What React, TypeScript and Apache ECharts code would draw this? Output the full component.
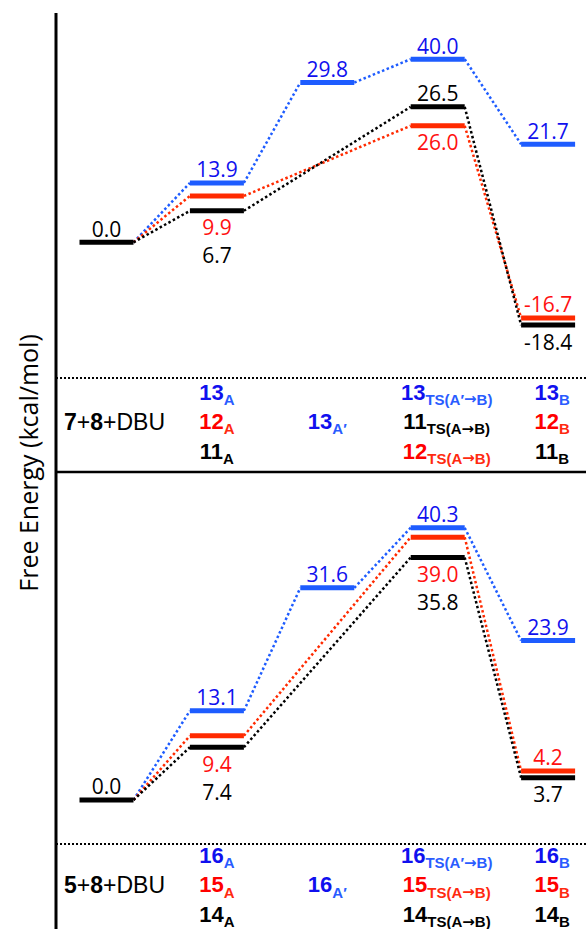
import React, { useEffect, useRef } from 'react';
import * as echarts from 'echarts';

// ---------- data ----------
const columns = ['R', 'A', "A'", 'TS', 'B'];

// Top panel (7+8+DBU): printed free energies, kcal/mol
const topBlueValues = [0.0, 13.9, 29.8, 40.0, 21.7];
const topRedValues = [0.0, 9.9, null, 26.0, -16.7];
const topBlackValues = [0.0, 6.7, null, 26.5, -18.4];
// levels as drawn in the (schematic) top diagram
const topBlueLevels = [0.0, 13.2, 35.5, 40.7, 21.8];
const topRedLevels = [0.0, 10.3, null, 25.9, -16.8];
const topBlackLevels = [0.0, 7.0, null, 30.1, -18.4];

// Bottom panel (5+8+DBU): printed free energies, kcal/mol
const bottomBlueValues = [0.0, 13.1, 31.6, 40.3, 23.9];
const bottomRedValues = [0.0, 9.4, null, 39.0, 4.2];
const bottomBlackValues = [0.0, 7.4, null, 35.8, 3.7];
// levels as drawn in the bottom diagram
const bottomBlueLevels = [0.0, 13.2, 31.4, 40.3, 23.6];
const bottomRedLevels = [0.0, 9.5, null, 38.9, 4.3];
const bottomBlackLevels = [0.0, 7.8, null, 35.9, 3.3];

// where each value label sits ('' = shared start, no own bar)
const topBluePlace = ['', 'above', 'above', 'above', 'above'];
const topRedPlace = ['', 'below1', '', 'below1', 'above'];
const topBlackPlace = ['above', 'below2', '', 'above', 'below1'];
const bottomBluePlace = ['', 'above', 'above', 'above', 'above'];
const bottomRedPlace = ['', 'below1', '', 'below1', 'above'];
const bottomBlackPlace = ['above', 'below2', '', 'below2', 'below1'];

// species names under each column: [colour, number, subscript]
const topNames = [
  [null, ['k', '7+8+DBU', ''], null],
  [['b', '13', 'A'], ['r', '12', 'A'], ['k', '11', 'A']],
  [null, ['b', '13', 'A′'], null],
  [['b', '13', 'TS(A′→B)'], ['k', '11', 'TS(A→B)'], ['r', '12', 'TS(A→B)']],
  [['b', '13', 'B'], ['r', '12', 'B'], ['k', '11', 'B']],
];
const bottomNames = [
  [null, ['k', '5+8+DBU', ''], null],
  [['b', '16', 'A'], ['r', '15', 'A'], ['k', '14', 'A']],
  [null, ['b', '16', 'A′'], null],
  [['b', '16', 'TS(A′→B)'], ['r', '15', 'TS(A→B)'], ['k', '14', 'TS(A→B)']],
  [['b', '16', 'B'], ['r', '15', 'B'], ['k', '14', 'B']],
];

const yTitle = 'Free Energy (kcal/mol)';

// ---------- style ----------
const BLUE_BAR = '#1e5cff';
const BLUE_TXT = '#1010ee';
const BLUE_SUB = '#2a5cff';
const RED_BAR = '#ff2a00';
const RED_TXT = '#ff1010';
const RED_SUB = '#ff2a10';
const BLACK = '#000000';
const HALF = 27;
const VAL_FONT = 'Open Sans';
const NAME_FONT = 'Liberation Sans';
const LINE_H = 29.5;
const namePad = [16, 0, 0, 18, 8];

function nameLabel(rows: any[], pad: number) {
  return rows
    .map((row: any) => {
      if (!row) return '{e| }';
      const p = pad ? `{p${pad}| }` : '';
      const [c, main, sub] = row;
      if (!sub) {
        return (
          p +
          main
            .split(/(\+)/)
            .map((t: string) =>
              t === '+' ? '{kn|+}' : /^\d+$/.test(t) ? `{kb|${t}}` : `{kn|${t}}`
            )
            .join('')
        );
      }
      const subRich = `{${c}s|${sub}}`.split('→').join(`}{${c}a|→}{${c}s|`);
      return p + `{${c}m|${main}}` + subRich;
    })
    .join('\n');
}

const mainStyle = (color: string) => ({
  color,
  fontFamily: NAME_FONT,
  fontWeight: 'bold',
  fontSize: 22,
  lineHeight: LINE_H,
});
const subStyle = (color: string, family = NAME_FONT) => ({
  color,
  fontFamily: family,
  fontWeight: 'bold',
  fontSize: 15,
  lineHeight: 11,
  verticalAlign: 'bottom',
});
const rich: any = {
  e: { fontSize: 22, lineHeight: LINE_H },
  p16: { width: 16, lineHeight: LINE_H },
  p18: { width: 18, lineHeight: LINE_H },
  p8: { width: 8, lineHeight: LINE_H },
  bm: mainStyle(BLUE_TXT),
  bs: subStyle(BLUE_SUB),
  ba: subStyle(BLUE_SUB, 'DejaVu Sans'),
  rm: mainStyle('#ff0000'),
  rs: subStyle(RED_SUB),
  ra: subStyle(RED_SUB, 'DejaVu Sans'),
  km: mainStyle(BLACK),
  ks: subStyle(BLACK),
  ka: subStyle(BLACK, 'DejaVu Sans'),
  kb: { color: BLACK, fontFamily: NAME_FONT, fontWeight: 'bold', fontSize: 23, lineHeight: LINE_H },
  kn: { color: BLACK, fontFamily: NAME_FONT, fontWeight: 'normal', fontSize: 23, lineHeight: LINE_H },
};

function connSeries(gi: number, levels: any[], color: string) {
  const data: number[][] = [];
  const idx = levels.map((l, i) => (l == null ? -1 : i)).filter((i) => i >= 0);
  for (let k = 0; k < idx.length - 1; k++) {
    data.push([idx[k], levels[idx[k]], idx[k + 1], levels[idx[k + 1]]]);
  }
  return {
    type: 'custom',
    xAxisIndex: gi,
    yAxisIndex: gi,
    z: 1,
    silent: true,
    encode: { x: [0, 2], y: [1, 3] },
    data,
    renderItem: (params: any, api: any) => {
      const c1 = api.coord([api.value(0), api.value(1)]);
      const c2 = api.coord([api.value(2), api.value(3)]);
      return {
        type: 'line',
        shape: { x1: c1[0] + HALF, y1: c1[1], x2: c2[0] - HALF, y2: c2[1] },
        style: { stroke: color, lineWidth: 2.5, lineDash: [2.5, 2.5], fill: null },
      };
    },
  };
}

function barSeries(
  gi: number,
  levels: any[],
  values: any[],
  place: string[],
  barColor: string,
  textColor: string,
  panelLevels: any[][]
) {
  const data: number[][] = [];
  levels.forEach((l, i) => {
    if (l != null && place[i] !== '') data.push([i, l]);
  });
  return {
    type: 'custom',
    xAxisIndex: gi,
    yAxisIndex: gi,
    z: 2,
    silent: true,
    encode: { x: 0, y: 1 },
    data,
    renderItem: (params: any, api: any) => {
      const i = api.value(0);
      const c = api.coord([i, api.value(1)]);
      const p = place[i];
      let ty: number;
      if (p === 'above') {
        ty = c[1] - 13.5;
      } else {
        const k = p === 'below2' ? 2 : 1;
        let lowest = -Infinity;
        panelLevels.forEach((L) => {
          if (L[i] != null) lowest = Math.max(lowest, api.coord([i, L[i]])[1]);
        });
        ty = lowest + 16.5 + 28 * (k - 1);
      }
      return {
        type: 'group',
        children: [
          {
            type: 'rect',
            shape: { x: c[0] - HALF, y: c[1] - 2.5, width: HALF * 2, height: 5 },
            style: { fill: barColor },
          },
          {
            type: 'text',
            x: c[0],
            y: ty,
            style: {
              text: values[i].toFixed(1),
              fill: textColor,
              fontFamily: VAL_FONT,
              fontSize: 21,
              align: 'center',
              verticalAlign: 'middle',
              textAlign: 'center',
              textVerticalAlign: 'middle',
            },
          },
        ],
      };
    },
  };
}

export default function App() {
  const ref = useRef<HTMLDivElement>(null);
  useEffect(() => {
    document.body.style.margin = '0';
    const chart = echarts.init(ref.current!, null, { renderer: 'svg' });
    const topLv = [topBlueLevels, topRedLevels, topBlackLevels];
    const botLv = [bottomBlueLevels, bottomRedLevels, bottomBlackLevels];
    const xAxis = (gi: number, names: any[]) => ({
      gridIndex: gi,
      type: 'category',
      data: columns,
      boundaryGap: false,
      axisLine: { show: false },
      axisTick: { show: false },
      splitLine: { show: false },
      axisLabel: {
        interval: 0,
        margin: 0,
        formatter: (v: string, i: number) => nameLabel(names[i], namePad[i]),
        rich,
      },
    });
    chart.setOption({
      animation: false,
      grid: [
        { left: 106.5, right: 37.9, top: 17.3, height: 360 },
        { left: 106.5, right: 37.9, top: 462.2, height: 381.4 },
      ],
      xAxis: [xAxis(0, topNames), xAxis(1, bottomNames)],
      yAxis: [
        { gridIndex: 0, type: 'value', min: -30, max: 50, show: false },
        { gridIndex: 1, type: 'value', min: -6, max: 50, show: false },
      ],
      series: [
        connSeries(0, topBlueLevels, BLUE_BAR),
        connSeries(0, topRedLevels, RED_BAR),
        connSeries(0, topBlackLevels, BLACK),
        barSeries(0, topBlueLevels, topBlueValues, topBluePlace, BLUE_BAR, BLUE_TXT, topLv),
        barSeries(0, topRedLevels, topRedValues, topRedPlace, RED_BAR, RED_TXT, topLv),
        barSeries(0, topBlackLevels, topBlackValues, topBlackPlace, BLACK, BLACK, topLv),
        connSeries(1, bottomBlueLevels, BLUE_BAR),
        connSeries(1, bottomRedLevels, RED_BAR),
        connSeries(1, bottomBlackLevels, BLACK),
        barSeries(1, bottomBlueLevels, bottomBlueValues, bottomBluePlace, BLUE_BAR, BLUE_TXT, botLv),
        barSeries(1, bottomRedLevels, bottomRedValues, bottomRedPlace, RED_BAR, RED_TXT, botLv),
        barSeries(1, bottomBlackLevels, bottomBlackValues, bottomBlackPlace, BLACK, BLACK, botLv),
      ],
      graphic: [
        {
          type: 'line',
          shape: { x1: 56, y1: 13, x2: 56, y2: 929 },
          style: { stroke: BLACK, lineWidth: 3 },
          z: 10,
        },
        {
          type: 'line',
          shape: { x1: 56, y1: 472, x2: 586, y2: 472 },
          style: { stroke: BLACK, lineWidth: 2.5 },
          z: 10,
        },
        {
          type: 'line',
          shape: { x1: 56, y1: 378, x2: 586, y2: 378 },
          style: { stroke: BLACK, lineWidth: 2, lineDash: [2, 2] },
          z: 10,
        },
        {
          type: 'line',
          shape: { x1: 56, y1: 844, x2: 586, y2: 844 },
          style: { stroke: BLACK, lineWidth: 2, lineDash: [2, 2] },
          z: 10,
        },
        {
          type: 'text',
          x: 28,
          y: 463,
          rotation: Math.PI / 2,
          style: {
            text: yTitle,
            fill: BLACK,
            fontFamily: VAL_FONT,
            fontSize: 25,
            align: 'center',
            verticalAlign: 'middle',
            textAlign: 'center',
            textVerticalAlign: 'middle',
          },
        },
      ],
    });
    return () => chart.dispose();
  }, []);
  return <div ref={ref} style={{ width: 586, height: 929 }} />;
}
